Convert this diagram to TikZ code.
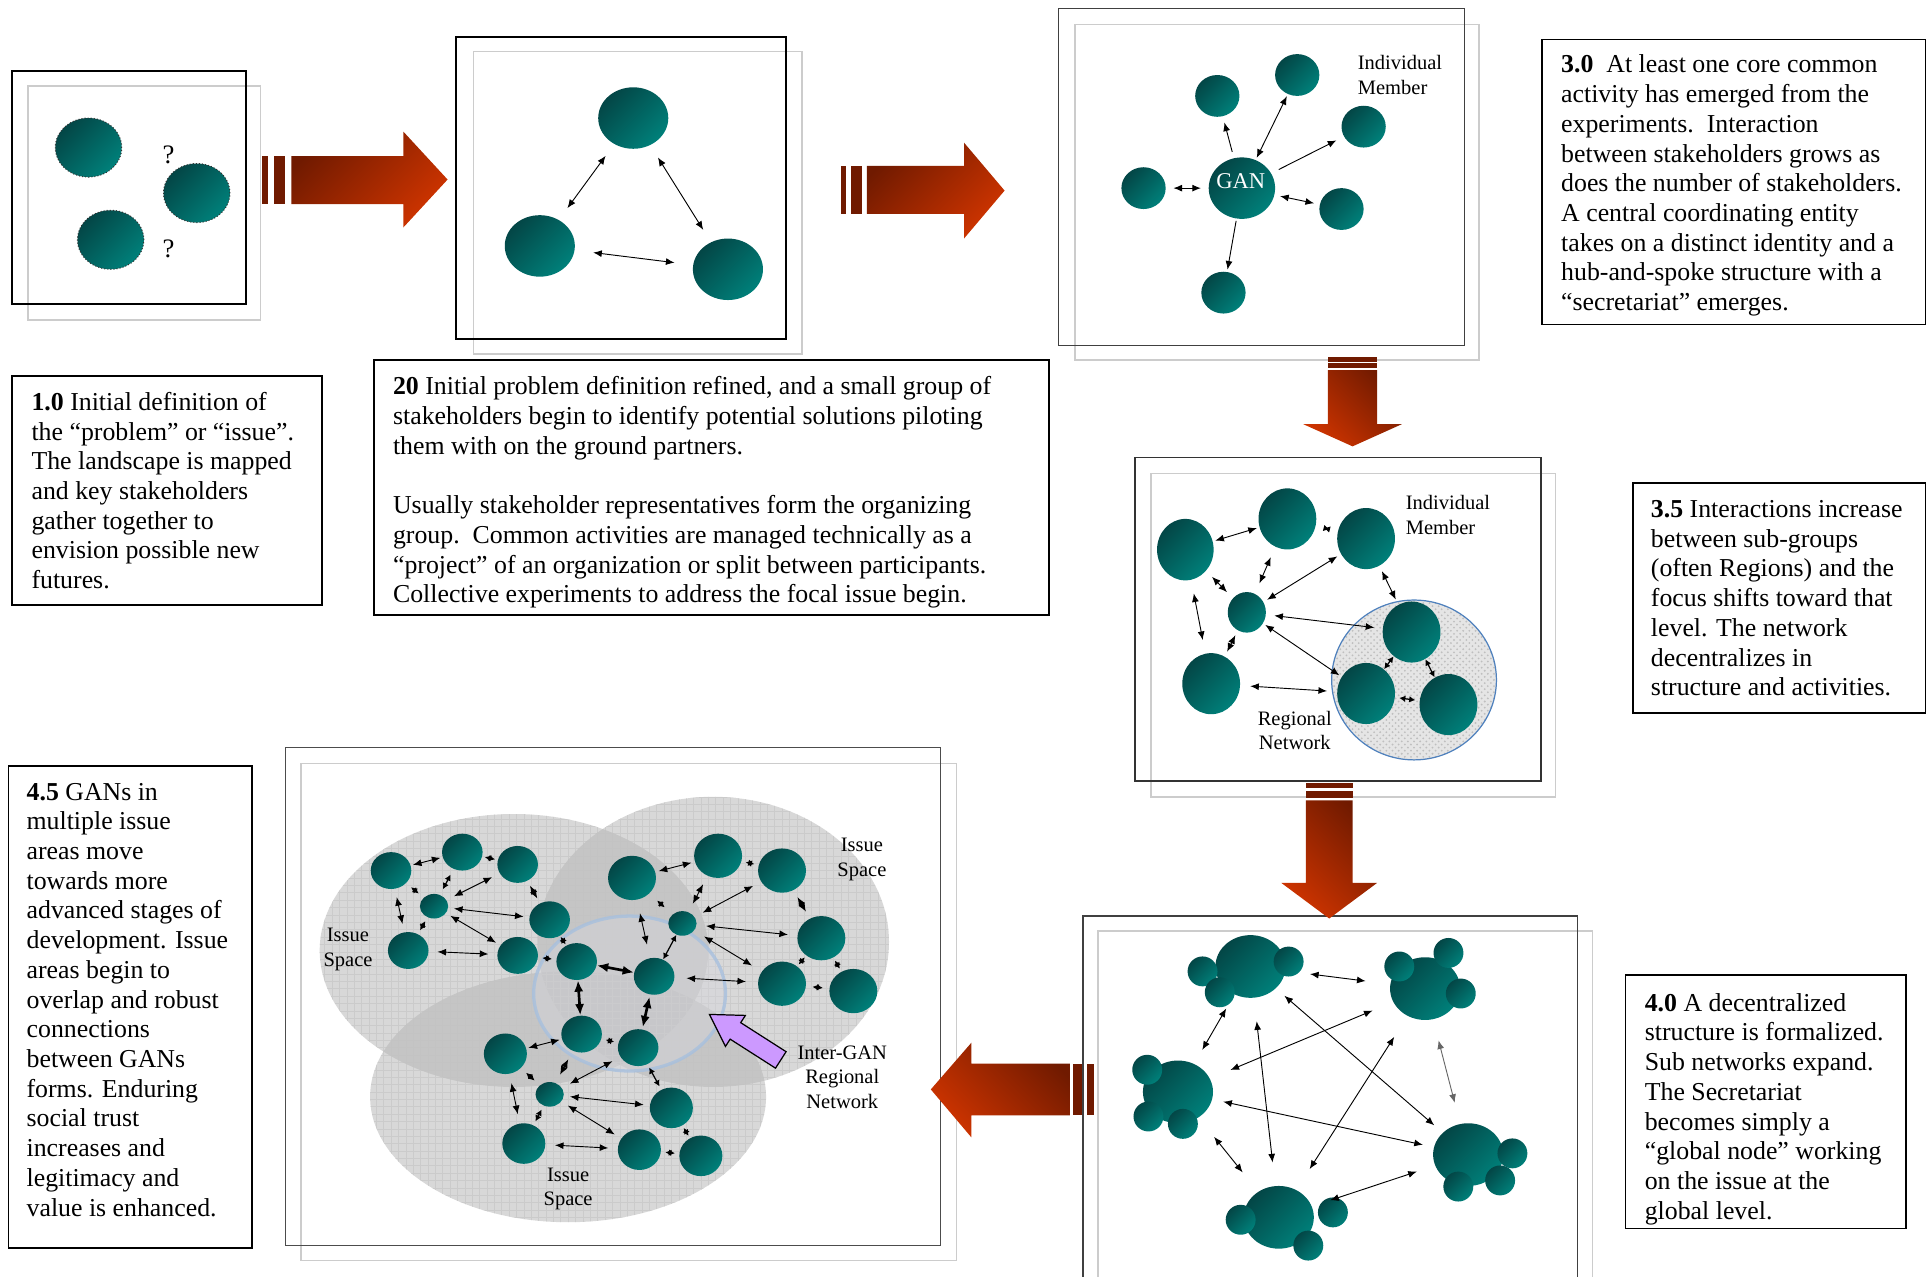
\documentclass[tikz,border=0pt]{standalone}
\usepackage{fontspec}
\setmainfont{Liberation Serif}
\usetikzlibrary{arrows.meta, shapes.geometric, patterns, positioning}

\definecolor{tealdark}{RGB}{3,70,70}
\definecolor{teallight}{RGB}{0,128,122}
\definecolor{reddark}{RGB}{112,26,0}
\definecolor{redbright}{RGB}{206,52,0}
\definecolor{lavender}{RGB}{204,153,255}
\definecolor{regionblue}{RGB}{79,129,189}

\begin{document}
\begin{tikzpicture}[x=0.6pt, y=-0.6pt,
    >={Latex[length=4.2pt, width=3.4pt]},
    ball/.style 2 args={ellipse, inner sep=0pt, minimum width=#1pt, minimum height=#2pt,
      top color=tealdark, bottom color=teallight, shading angle=45},
    blob/.style={ball={32.4}{28.8}, draw=black!80, densely dotted, line width=.5pt},
    bud/.style={ball={14.6}{14.6}},
    link/.style={<->, line width=.45pt, shorten <=#1, shorten >=#1}, link/.default=2pt,
    spoke/.style={->, line width=.45pt, shorten <=#1, shorten >=#1}, spoke/.default=2pt,
    nub/.style={<->, >={Latex[length=3pt, width=3.2pt]}, line width=.6pt, shorten <=#1, shorten >=#1}, nub/.default=1.5pt,
    strong/.style={<->, >={Latex[length=5.5pt, width=4.5pt]}, line width=1.3pt, shorten <=#1, shorten >=#1}, strong/.default=0pt,
    panel/.style={draw=black, line width=.9pt},
    ghost/.style={draw=gray!40, line width=.8pt},
    txtframe/.style={draw, line width=.8pt, inner sep=0pt},
    txt/.style={align=left, inner sep=0pt, font=\fontsize{12.6}{14.5}\selectfont},
    lbl/.style={align=left, inner sep=0pt, font=\fontsize{10}{12}\selectfont},
    spacefill/.style={fill=gray!60, fill opacity=.5},
    spacegrid/.style={draw=gray!45, draw opacity=.7, line width=.2pt, step=3.6pt},
    redbar/.style={fill=reddark}]
\useasboundingbox (0,0) rectangle (1568,1038);

% frames
\draw[ghost] (23,70) rectangle (212,260);
\draw[panel] (10,58) rectangle (200,247);
\draw[ghost] (385,42) rectangle (652,288);
\draw[panel] (371,30) rectangle (639,276);
\draw[ghost] (874,20) rectangle (1203,293);
\draw[panel, draw=black!75, line width=.7pt] (861,7) rectangle (1191,281);
\draw[ghost] (936,385) rectangle (1265,648);
\draw[panel, draw=black!80, line width=.8pt] (923,372) rectangle (1253,635);
\draw[ghost] (893,757) rectangle (1295,1045);
\draw[panel, draw=black!75, line width=.8pt] (881,745) rectangle (1283,1045);
\draw[ghost] (245,621) rectangle (778,1025);
\draw[panel, draw=black!70, line width=.7pt] (232,608) rectangle (765,1013);

% red arrows
\fill[redbar] (213,127) rectangle (218,166);
\fill[redbar] (223,127) rectangle (232,166);
\shade[top color=reddark, bottom color=redbright, shading angle=45]
  (237,127) -- (328,127) -- (328,107) -- (364,146) -- (328,185) -- (328,166) -- (237,166) -- cycle;
\fill[redbar] (684,135) rectangle (688,174);
\fill[redbar] (692,135) rectangle (701,174);
\shade[top color=reddark, bottom color=redbright, shading angle=45]
  (705,135) -- (784,135) -- (784,116) -- (817,155) -- (784,194) -- (784,174) -- (705,174) -- cycle;
\fill[redbar] (1080,290) rectangle (1120,294);
\fill[redbar] (1080,295) rectangle (1120,299);
\shade[top color=reddark, bottom color=redbright, shading angle=-45]
  (1080,301) -- (1120,301) -- (1120,345) -- (1140,345) -- (1100,363) -- (1060,345) -- (1080,345) -- cycle;
\fill[redbar] (1062,637) rectangle (1100,641);
\fill[redbar] (1062,643) rectangle (1100,649);
\shade[top color=reddark, bottom color=redbright, shading angle=-45]
  (1062,651) -- (1100,651) -- (1100,718) -- (1120,718) -- (1081,747) -- (1042,718) -- (1062,718) -- cycle;
\fill[redbar] (873,865) rectangle (880,907);
\fill[redbar] (884,865) rectangle (890,907);
\shade[top color=reddark, bottom color=redbright, shading angle=-45]
  (757,886) -- (790,848) -- (790,865) -- (870,865) -- (870,907) -- (790,907) -- (790,925) -- cycle;

% 1.0
\node[blob] (s1) at (72,120) {};
\node[blob] (s2) at (160,157) {};
\node[blob] (s3) at (90,195) {};
\node[font=\fontsize{13}{15}\selectfont] (q1) at (137,126) {?};
\node[font=\fontsize{13}{15}\selectfont] (q2) at (137,202) {?};

% 2.0
\node[ball={34.2}{30}] (m1) at (515,96) {};
\node[ball={34.2}{30}] (m2) at (439,200) {};
\node[ball={34.2}{30}] (m3) at (592,219) {};
\path (m1) edge[link=7pt] (m2)
      (m1) edge[link=7pt] (m3)
      (m2) edge[link=9pt] (m3);

% 3.0
\node[ball={32.4}{30}] (gan) at (1010,153) {};
\node[text=white, font=\fontsize{11}{13}\selectfont] (ganlbl) at (1009,147) {GAN};
\node[ball={21.6}{20.4}] (g1) at (930,153) {};
\node[ball={21.6}{20.4}] (g2) at (990,78) {};
\node[ball={21.6}{20.4}] (g3) at (1055,61) {};
\node[ball={21.6}{20.4}] (g4) at (1109,103) {};
\node[ball={21.6}{20.4}] (g5) at (1091,170) {};
\node[ball={21.6}{20.4}] (g6) at (995,238) {};
\path (gan) edge[link=3.6pt] (g1)
      (gan) edge[spoke=3pt] (g2)
      (gan) edge[link=1pt] (g3)
      (gan) edge[spoke=4pt] (g4)
      (gan) edge[link=2.7pt] (g5)
      (gan) edge[spoke=1pt] (g6);
\node[lbl, anchor=west] (mem30) at (1104,61) {Individual\\Member};

% 3.5
\node[ellipse, minimum width=80.4pt, minimum height=78pt, draw=regionblue, line width=.6pt,
  preaction={fill=gray!20}, pattern=crosshatch dots, pattern color=gray!50] (reg) at (1150,553) {};
\node[ball={27.6}{30}] (ra) at (964,447) {};
\node[ball={28.2}{29.8}] (rb) at (1047,422) {};
\node[ball={28.2}{29.8}] (rc) at (1111,438) {};
\node[ball={18.6}{19.8}] (rd) at (1014,498) {};
\node[ball={28.2}{29.8}] (re) at (985,556) {};
\node[ball={28.2}{29.8}] (rf) at (1148,514) {};
\node[ball={28.2}{29.8}] (rg) at (1111,564) {};
\node[ball={28.2}{29.8}] (rh) at (1178,573) {};
\path (ra) edge[link=1.2pt] (rb)
      (rb) edge[nub=4pt] (rc)
      (ra) edge[link=4pt] (rd)
      (rb) edge[link=5.4pt] (rd)
      (rc) edge[link=2pt] (rd)
      (ra) edge[link=6.6pt] (re)
      (rd) edge[link=2.5pt] (re)
      (rd) edge[link=4pt] (rf)
      (rd) edge[link=1.2pt] (rg)
      (rc) edge[link=2.7pt] (rf)
      (re) edge[link=4.8pt] (rg)
      (rf) edge[nub=0pt] (rg)
      (rf) edge[nub=0pt] (rh)
      (rg) edge[nub=2pt] (rh);
\node[lbl, anchor=west] (mem35) at (1143,419) {Individual\\Member};
\node[lbl, align=center] (regnet) at (1053,594) {Regional\\Network};

% 4.0
\node[ball={34.2}{30.6}] (ctl) at (1017,786) {};
\node[ball={34.2}{30.6}] (ctr) at (1159,804) {};
\node[ball={34.2}{30.6}] (cl) at (958,888) {};
\node[ball={34.2}{30.6}] (cb) at (1040,990) {};
\node[ball={34.2}{30.6}] (cr) at (1194,939) {};
\foreach \bx/\by [count=\i] in {978/790, 992/807, 1048/782, 1138/786, 1178/775, 1188/808,
    933/870, 934/908, 962/914, 1009/992, 1084/986, 1064/1013, 1230/938, 1220/960, 1186/965}
  \node[bud] (bud\i) at (\bx,\by) {};
\path (ctl) edge[link=12pt] (ctr)
      (ctl) edge[link=5.4pt] (cr)
      (ctl) edge[link=7.8pt] (cl)
      (ctl) edge[link=11.4pt] (cb)
      (ctr) edge[link=10.8pt] (cl)
      (ctr) edge[link=12pt] (cb)
      (ctr) edge[link=10.5pt, draw=black!60] (cr)
      (cl) edge[link=5.4pt] (cr)
      (cl) edge[link=12pt] (cb)
      (cb) edge[link=9.3pt] (cr);

% 4.5
\foreach \cx/\cy/\rx/\ry in {418/773/158/111, 580/766/143/118, 462/892/161/102}{
  \fill[spacefill] (\cx,\cy) ellipse [x radius=\rx, y radius=\ry];
  \begin{scope}
    \clip (\cx,\cy) ellipse [x radius=\rx, y radius=\ry];
    \draw[spacegrid] (250,1020) grid (780,640);
  \end{scope}
}
\node[ellipse, minimum width=93.6pt, minimum height=75.6pt, draw=regionblue!50, line width=1.6pt,
  fill=blue!8!gray!30, fill opacity=.45, draw opacity=.8] (igan) at (512,808) {};
\node[ball={19.8}{18}] (l1) at (318,708) {};
\node[ball={19.8}{18}] (l2) at (376,693) {};
\node[ball={19.8}{18}] (l3) at (421,703) {};
\node[ball={13.8}{12}] (ls) at (353,737) {};
\node[ball={19.8}{18}] (l4) at (447,748) {};
\node[ball={19.8}{18}] (l5) at (332,773) {};
\node[ball={19.8}{18}] (l6) at (421,777) {};
\node[ball={23.4}{21.6}] (t1) at (514,714) {};
\node[ball={23.4}{21.6}] (t2) at (584,696) {};
\node[ball={23.4}{21.6}] (t3) at (636,708) {};
\node[ball={13.8}{12}] (ts) at (555,751) {};
\node[ball={23.4}{21.6}] (t4) at (668,763) {};
\node[ball={23.4}{21.6}] (t5) at (636,800) {};
\node[ball={23.4}{21.6}] (t6) at (694,806) {};
\node[ball={19.8}{18}] (c1) at (469,782) {};
\node[ball={19.8}{18}] (c2) at (532,794) {};
\node[ball={19.8}{18}] (c3) at (473,841) {};
\node[ball={19.8}{18}] (c4) at (519,852) {};
\node[ball={21}{19.8}] (b1) at (411,857) {};
\node[ball={13.8}{12}] (bs) at (447,890) {};
\node[ball={21}{19.8}] (b2) at (546,901) {};
\node[ball={21}{19.8}] (b3) at (426,930) {};
\node[ball={21}{19.8}] (b4) at (520,935) {};
\node[ball={21}{19.8}] (b5) at (570,940) {};
\path (l1) edge[link=1pt] (l2)
      (l2) edge[nub=1.2pt] (l3)
      (l1) edge[link=4pt] (l5)
      (l1) edge[nub=3pt] (ls)
      (ls) edge[nub=3pt] (l2)
      (ls) edge[link=4pt] (l3)
      (ls) edge[link=2.7pt] (l4)
      (ls) edge[nub=2pt] (l5)
      (ls) edge[link=2.4pt] (l6)
      (l3) edge[link=2.6pt] (l4)
      (l5) edge[link=4.2pt] (l6)
      (l4) edge[nub=0.5pt] (c1)
      (l6) edge[nub=2pt] (c1);
\path (t1) edge[link=1.6pt] (t2)
      (t2) edge[nub=2pt] (t3)
      (t1) edge[link=6.6pt] (c2)
      (t1) edge[nub=5pt] (ts)
      (ts) edge[link=4.5pt] (t2)
      (ts) edge[link=4.3pt] (t3)
      (ts) edge[link=4.5pt] (t4)
      (ts) edge[nub=0pt] (c2)
      (ts) edge[link=5.5pt] (t5)
      (t3) edge[link=3.8pt] (t4)
      (t4) edge[nub=1pt] (t5)
      (t4) edge[nub=1.5pt] (t6)
      (t5) edge[nub=3pt] (t6)
      (c2) edge[link=5.7pt] (t5);
\path (c1) edge[strong] (c2)
      (c1) edge[strong] (c3)
      (c2) edge[strong=1pt] (c4)
      (c3) edge[nub=2pt] (c4)
      (b1) edge[link=1pt] (c3);
\path (b1) edge[link=4.5pt] (b3)
      (bs) edge[nub=3.3pt] (b1)
      (bs) edge[link=4.5pt] (c3)
      (bs) edge[link=4.3pt] (c4)
      (bs) edge[link=2.9pt] (b2)
      (bs) edge[nub=2pt] (b3)
      (bs) edge[link=3.6pt] (b4)
      (b3) edge[link=4.5pt] (b4)
      (c4) edge[nub=1.7pt] (b2)
      (b2) edge[nub=1.2pt] (b5)
      (b4) edge[nub=2pt] (b5);
\node[lbl, align=center] (is1) at (283,772) {Issue\\Space};
\node[lbl, align=center] (is2) at (701,699) {Issue\\Space};
\node[lbl, align=center] (is3) at (462,967) {Issue\\Space};
\node[lbl, align=center] (iganlbl) at (685,876) {Inter-GAN\\Regional\\Network};
\draw[fill=lavender, line width=.6pt] (577,825) -- (606.2,825.8) -- (602.4,831.7) -- (639.3,855.3)
  -- (630.7,868.7) -- (593.8,845.1) -- (590,851) -- cycle;

% text boxes
\node[txtframe, minimum width=151.2pt, minimum height=111.6pt] (box10) at (136,399) {};
\node[txt, right=9.6pt of box10.west] (t10) {\textbf{1.0} Initial definition of\\
  the “problem” or “issue”.\\ The landscape is mapped\\ and key stakeholders\\
  gather together to\\ envision possible new\\ futures.};
\node[txtframe, minimum width=329.4pt, minimum height=124.2pt] (box20) at (578.5,396.5) {};
\node[txt, right=9.6pt of box20.west, yshift=-2.4pt] (t20) {\textbf{20} Initial problem definition refined, and a small group of\\
  stakeholders begin to identify potential solutions piloting\\
  them with on the ground partners.\\[14.5pt]
  Usually stakeholder representatives form the organizing\\
  group.\ \ Common activities are managed technically as a\\
  “project” of an organization or split between participants.\\
  Collective experiments to address the focal issue begin.};
\node[txtframe, minimum width=187.2pt, minimum height=139.2pt] (box30) at (1410,148) {};
\node[txt, right=9.6pt of box30.west, yshift=-1.8pt] (t30) {\textbf{3.0}\ \ At least one core common\\
  activity has emerged from the\\ experiments.\ \ Interaction\\
  between stakeholders grows as\\ does the number of stakeholders.\\
  A central coordinating entity\\ takes on a distinct identity and a\\
  hub-and-spoke structure with a\\ “secretariat” emerges.};
\node[txtframe, minimum width=142.8pt, minimum height=112.2pt] (box35) at (1447,486.5) {};
\node[txt, right=9pt of box35.west] (t35) {\textbf{3.5} Interactions increase\\
  between sub-groups\\ (often Regions) and the\\ focus shifts toward that\\
  level. The network\\ decentralizes in\\ structure and activities.};
\node[txtframe, minimum width=136.8pt, minimum height=123.6pt] (box40) at (1436,896) {};
\node[txt, right=9.6pt of box40.west, yshift=-3.6pt] (t40) {\textbf{4.0} A decentralized\\
  structure is formalized.\\ Sub networks expand.\\ The Secretariat\\
  becomes simply a\\ “global node” working\\ on the issue at the\\ global level.};
\node[txtframe, minimum width=118.8pt, minimum height=235.2pt] (box45) at (106,819) {};
\node[txt, right=9pt of box45.west, yshift=3.6pt] (t45) {\textbf{4.5} GANs in\\ multiple issue\\
  areas move\\ towards more\\ advanced stages of\\ development. Issue\\
  areas begin to\\ overlap and robust\\ connections\\ between GANs\\
  forms. Enduring\\ social trust\\ increases and\\ legitimacy and\\
  value is enhanced.};
\end{tikzpicture}
\end{document}
